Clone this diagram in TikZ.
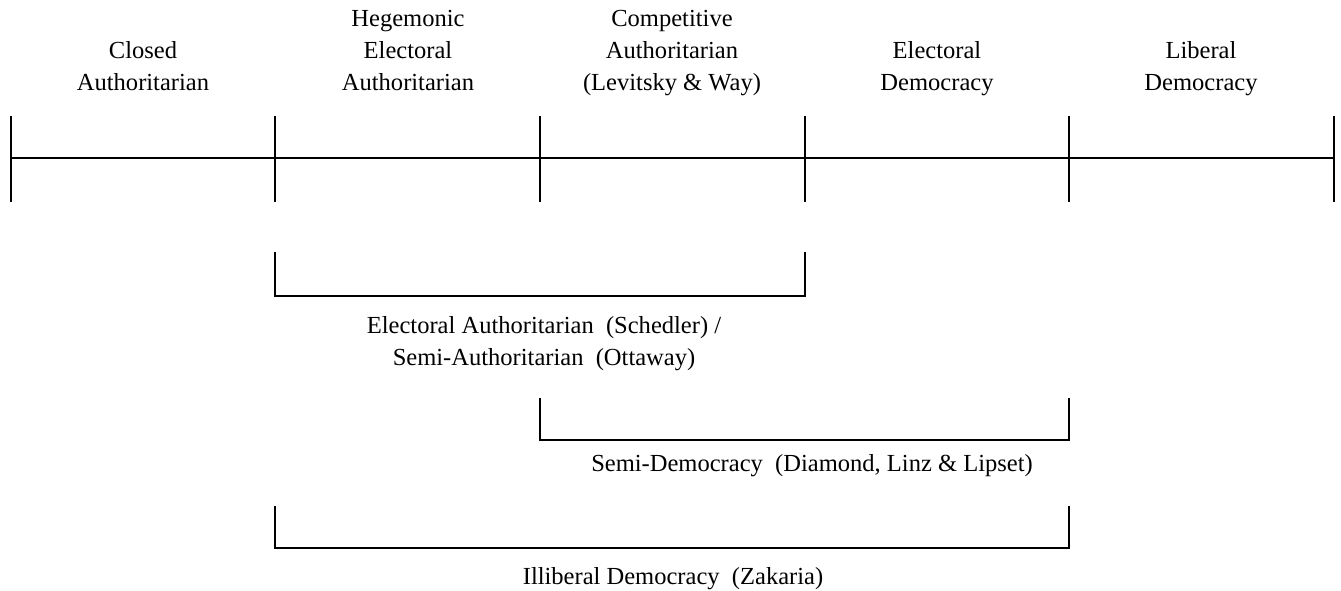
\documentclass[tikz,border=0pt]{standalone}
\usepackage{fontspec}
\setmainfont{Liberation Serif}
\usetikzlibrary{positioning}

\begin{document}
\begin{tikzpicture}[x=0.75pt,y=-0.75pt,line width=0.9pt,
	lbl/.style={align=center,inner sep=0pt,font=\fontsize{18.4}{24}\selectfont}]
			\useasboundingbox (0,0) rectangle (1341,590);
			% the scale
			\coordinate (t0) at (11,158);
			\coordinate (t1) at (275,158);
			\coordinate (t2) at (540,158);
			\coordinate (t3) at (805,158);
			\coordinate (t4) at (1069,158);
			\coordinate (t5) at (1334,158);
			\draw (t0) -- (t5);
			\draw (t0) ++(0,-42) -- ++(0,86);
			\draw (t1) ++(0,-42) -- ++(0,86);
			\draw (t2) ++(0,-42) -- ++(0,86);
			\draw (t3) ++(0,-42) -- ++(0,86);
			\draw (t4) ++(0,-42) -- ++(0,86);
			\draw (t5) ++(0,-42) -- ++(0,86);

			\node[lbl, anchor=south](A) at (143,101) {Closed\\Authoritarian\strut};
			\node[lbl, anchor=south](B) at (408,101) {Hegemonic\\Electoral\\Authoritarian\strut};
			\node[lbl, anchor=south](C) at (672,101) {Competitive\\Authoritarian\\(Levitsky \& Way)\strut};
			\node[lbl, anchor=south](D) at (937,101) {Electoral\\Democracy\strut};
			\node[lbl, anchor=south](E) at (1201,101) {Liberal\\Democracy\strut};

			% the ranges
			\coordinate (ea1) at (275,252);
			\coordinate (ea2) at (805,252);
			\draw (ea1) -- ++(0,44) -| (ea2);
			\node[lbl, anchor=north](EA) at (544,316) {Electoral Authoritarian\ \ (Schedler) /\\Semi-Authoritarian\ \ (Ottaway)};

			\coordinate (sd1) at (540,398);
			\coordinate (sd2) at (1069,398);
			\draw (sd1) -- ++(0,42) -| (sd2);
			\node[lbl, anchor=north](SD) at (812,454) {Semi-Democracy\ \ (Diamond, Linz \& Lipset)};

			\coordinate (il1) at (275,506);
			\coordinate (il2) at (1069,506);
			\draw (il1) -- ++(0,42) -| (il2);
			\node[lbl, anchor=north](IL) at (673,567) {Illiberal Democracy\ \ (Zakaria)};
\end{tikzpicture}
\end{document}
